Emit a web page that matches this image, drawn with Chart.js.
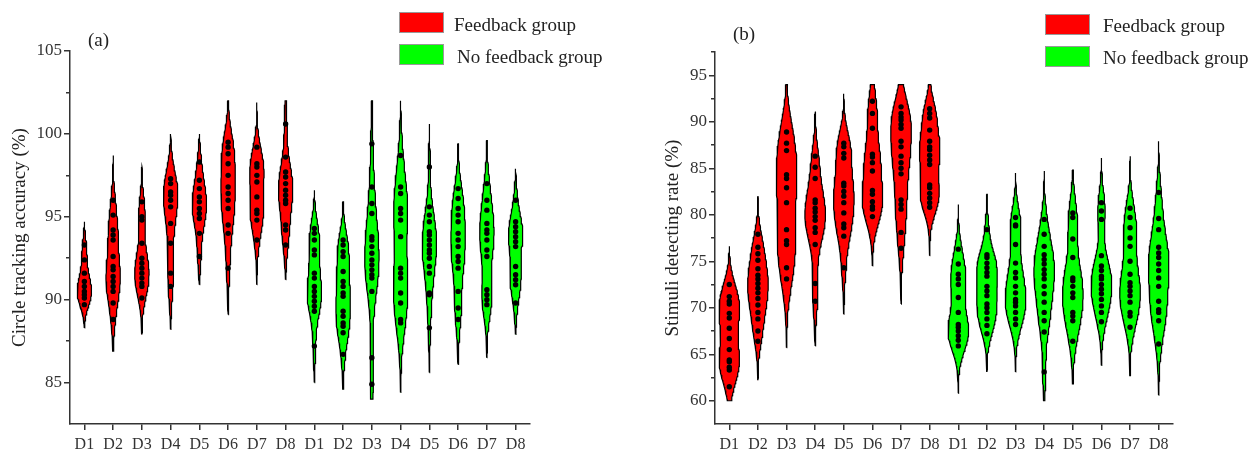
<!DOCTYPE html>
<html>
<head>
<meta charset="utf-8">
<title>Violin plots</title>
<script src="https://cdn.jsdelivr.net/npm/chart.js@4.4.1/dist/chart.umd.min.js"></script>
<style>
  body { margin: 0; background: #fff; }
  #wrap { position: relative; width: 1260px; height: 452px; overflow: hidden; font-family: 'Liberation Serif', 'Times New Roman', serif; color: #222; }
  canvas { position: absolute; top: 0; }
  .lbl { position: absolute; font-size: 19px; line-height: 20px; white-space: nowrap; }
  .box { position: absolute; width: 45px; height: 21px; box-sizing: border-box; border: 1px solid #999; }
</style>
</head>
<body>
<div id="wrap">
  <canvas id="chartA" width="630" height="452" style="left:0"></canvas>
  <canvas id="chartB" width="630" height="452" style="left:630px"></canvas>

  <div class="lbl" style="left:88px;top:30px">(a)</div>
  <div class="box" style="left:399px;top:12px;background:#ff0000"></div>
  <div class="lbl" style="left:454px;top:15px">Feedback group</div>
  <div class="box" style="left:399px;top:44px;background:#00ff00"></div>
  <div class="lbl" style="left:457px;top:47px">No feedback group</div>

  <div class="lbl" style="left:733px;top:24px">(b)</div>
  <div class="box" style="left:1045px;top:14px;background:#ff0000"></div>
  <div class="lbl" style="left:1103px;top:16px">Feedback group</div>
  <div class="box" style="left:1045px;top:46px;background:#00ff00"></div>
  <div class="lbl" style="left:1103px;top:48px">No feedback group</div>
</div>

<script>
// ---------- data ----------
const days = ['D1', 'D2', 'D3', 'D4', 'D5', 'D6', 'D7', 'D8'];
const tickLabels = days.concat(days);   // feedback D1-D8 then no feedback D1-D8

// (a) circle tracking accuracy (%), subject values per day
const accFeedback = [
  [93.3, 92.4, 91.6, 91.1, 90.8, 90.5, 90.3, 90.1, 89.7],
  [96.0, 95.1, 94.2, 93.9, 93.6, 92.6, 92.0, 91.8, 91.4, 91.1, 90.8, 90.5, 89.8, 88.8],
  [95.9, 95.0, 94.8, 93.4, 92.5, 92.2, 91.9, 91.6, 91.3, 91.0, 90.8, 90.1],
  [97.3, 97.0, 96.5, 96.3, 96.0, 95.6, 94.6, 93.4, 91.6, 90.8],
  [98.3, 97.2, 96.7, 96.2, 95.9, 95.5, 95.2, 94.9, 94.0, 92.6],
  [99.5, 99.2, 98.8, 98.2, 97.5, 96.8, 96.4, 96.0, 95.5, 94.5, 94.0, 91.9],
  [99.2, 98.2, 98.0, 97.5, 97.1, 96.2, 95.4, 95.2, 94.8, 93.6],
  [100.6, 98.6, 97.7, 97.4, 97.0, 96.6, 96.3, 96.0, 95.8, 94.5, 94.2, 93.3]
];
const accNoFeedback = [
  [94.3, 94.0, 93.6, 93.0, 92.7, 91.6, 91.3, 90.8, 90.5, 90.2, 89.9, 89.6, 89.3, 87.2],
  [93.6, 93.3, 92.9, 92.6, 91.7, 91.1, 90.8, 90.4, 90.2, 89.3, 89.0, 88.6, 88.4, 88.0, 86.7],
  [99.4, 96.8, 95.8, 95.2, 93.8, 93.6, 93.2, 92.8, 92.4, 92.1, 91.8, 91.5, 91.3, 90.5, 86.5, 84.9],
  [98.7, 96.8, 96.4, 95.5, 95.2, 94.8, 93.8, 91.9, 91.6, 91.3, 90.4, 89.8, 88.8, 88.6],
  [98.0, 95.6, 95.1, 94.7, 94.1, 93.9, 93.6, 93.3, 93.0, 92.8, 92.5, 92.0, 91.6, 90.4, 90.3, 88.3],
  [96.7, 96.1, 95.5, 95.1, 94.7, 94.0, 93.6, 93.2, 92.6, 92.3, 91.9, 90.5, 89.5, 88.8],
  [97.0, 96.0, 95.4, 94.6, 94.2, 94.0, 93.6, 93.0, 92.6, 90.6, 90.3, 90.0, 89.7],
  [96.0, 94.7, 94.4, 94.1, 93.8, 93.5, 93.2, 92.0, 91.5, 91.2, 90.9, 89.8]
];
// lowest / highest end of each violin (tails)
const accFeedbackRange = [[88.3, 94.7], [86.9, 98.7], [87.9, 98.0], [88.2, 100.0], [90.9, 100.0], [89.1, 102.0], [90.9, 101.9], [91.2, 102.0]];
const accNoFeedbackRange = [[85.0, 96.6], [84.6, 95.9], [84.0, 102.0], [84.4, 102.0], [85.6, 100.6], [86.1, 99.4], [86.5, 99.6], [87.9, 97.9]];
const accTicks = [85, 90, 95, 100, 105];

// (b) stimuli detecting rate (%)
const rateFeedback = [
  [72.5, 71.2, 70.7, 70.4, 69.4, 68.9, 67.8, 66.7, 65.5, 64.4, 64.2, 63.6, 63.3, 61.5],
  [77.9, 76.5, 75.8, 75.1, 74.2, 73.5, 73.1, 72.6, 72.1, 71.6, 71.0, 70.3, 69.5, 68.8, 67.5, 66.4],
  [88.9, 87.7, 86.9, 84.3, 83.9, 82.9, 81.3, 78.4, 77.2, 76.8, 74.3, 73.1],
  [86.3, 85.1, 83.9, 81.6, 81.3, 80.7, 80.3, 79.8, 79.4, 78.6, 78.1, 76.8, 72.6, 70.7],
  [87.7, 87.3, 86.6, 86.1, 83.4, 83.1, 82.5, 82.0, 81.3, 80.2, 79.0, 78.6, 77.7, 74.3],
  [92.2, 90.9, 89.3, 86.5, 86.2, 85.6, 84.7, 82.6, 82.2, 81.4, 80.9, 80.6, 79.8],
  [91.6, 90.9, 90.5, 90.2, 89.7, 89.3, 87.9, 87.3, 86.3, 85.6, 85.0, 84.4, 81.6, 81.1, 80.6, 78.1, 76.4],
  [91.4, 90.9, 90.4, 89.1, 87.9, 87.3, 87.0, 86.4, 85.9, 85.4, 83.2, 82.9, 82.3, 81.8, 81.3, 80.8]
];
const rateNoFeedback = [
  [76.3, 74.7, 73.6, 73.1, 72.5, 71.1, 69.5, 68.2, 67.9, 67.5, 67.0, 66.5, 65.9],
  [78.4, 75.7, 75.4, 74.8, 74.3, 73.8, 73.4, 72.3, 71.8, 71.3, 70.4, 70.0, 69.5, 68.8, 68.1, 67.2],
  [79.7, 78.9, 78.8, 76.8, 74.8, 73.8, 73.2, 72.3, 71.6, 70.9, 70.6, 70.2, 69.5, 68.8, 68.2],
  [79.5, 77.9, 76.6, 75.7, 75.2, 74.7, 74.1, 73.6, 73.1, 72.3, 71.5, 70.6, 69.5, 68.6, 67.4, 63.1],
  [80.2, 79.7, 77.4, 75.4, 73.2, 72.9, 72.3, 71.6, 71.1, 69.5, 69.1, 68.6, 66.4],
  [81.3, 80.4, 79.5, 75.6, 74.5, 74.0, 73.4, 73.1, 72.5, 72.0, 71.5, 70.9, 70.2, 69.5, 68.5],
  [80.7, 79.7, 78.6, 77.5, 76.6, 75.0, 73.6, 72.7, 72.3, 71.8, 71.3, 70.6, 69.5, 69.1, 67.9],
  [82.4, 79.6, 78.4, 76.5, 75.9, 75.4, 74.7, 74.0, 73.2, 72.3, 70.7, 69.8, 69.5, 68.6, 66.1]
];
const rateFeedbackRange = [[60.0, 76.6], [62.2, 82.0], [65.7, 94.0], [65.9, 91.1], [69.3, 93.0], [74.5, 94.0], [70.4, 94.0], [75.6, 94.0]];
const rateNoFeedbackRange = [[60.8, 81.1], [63.1, 82.2], [63.1, 84.5], [60.0, 84.7], [61.8, 84.8], [63.8, 86.1], [62.7, 86.3], [60.6, 87.9]];
const rateTicks = [60, 65, 70, 75, 80, 85, 90, 95];

// ---------- styling ----------
const RED = '#ff0000', GREEN = '#00ff00';
const AXIS = '#333', TXT = '#333';
const SERIF = "'Liberation Serif', 'Times New Roman', serif";

// kernel density outline of one violin, as a closed polygon in data units
function violin(center, vals, range, halfWidth) {
  const n = vals.length;
  const mean = vals.reduce((a, b) => a + b, 0) / n;
  const sd = Math.sqrt(vals.reduce((a, v) => a + (v - mean) * (v - mean), 0) / (n - 1));
  const h = 0.85 * sd * Math.pow(n, -0.2);
  const steps = 90;
  let ys = [], ds = [];
  for (let k = 0; k <= steps; k++) {
    const y = range[0] + (range[1] - range[0]) * k / steps;
    let d = 0;
    vals.forEach(v => { const z = (y - v) / h; d += Math.exp(-0.5 * z * z); });
    ys.push(y); ds.push(d);
  }
  const dmax = Math.max(...ds);
  const right = ys.map((y, k) => ({x: center + halfWidth * ds[k] / dmax, y: y}));
  const left = ys.map((y, k) => ({x: center - halfWidth * ds[k] / dmax, y: y})).reverse();
  return right.concat(left, [right[0]]);
}

function panel(id, cfg) {
  const groups = cfg.fb.concat(cfg.nofb);
  const ranges = cfg.fbRange.concat(cfg.nofbRange);
  const datasets = [];
  const dots = [];
  groups.forEach((vals, i) => {
    datasets.push({
      data: violin(i + 1, vals, ranges[i], cfg.halfWidth),
      backgroundColor: i < 8 ? RED : GREEN,
      borderColor: '#000',
      borderWidth: 1.2,
      fill: 'shape',
      pointRadius: 0,
      tension: 0,
      order: 1
    });
    vals.forEach(v => dots.push({x: i + 1, y: v}));
  });
  datasets.push({
    data: dots, showLine: false, pointRadius: 2.7, pointStyle: 'circle',
    pointBackgroundColor: '#000', pointBorderWidth: 0, order: 0
  });

  const minor = [];
  cfg.ticks.forEach(t => { if (t + 2.5 < cfg.max + 0.01) minor.push(t + 2.5); });
  if (cfg.ticks[0] - 2.5 > cfg.min) minor.unshift(cfg.ticks[0] - 2.5);

  new Chart(document.getElementById(id), {
    type: 'line',
    data: {datasets: datasets},
    options: {
      responsive: false,
      animation: false,
      events: [],
      layout: {padding: cfg.pad},
      plugins: {legend: {display: false}, tooltip: {enabled: false}},
      scales: {
        x: {
          type: 'linear', min: 0.5, max: 16.5,
          afterBuildTicks: a => { a.ticks = tickLabels.map((_, i) => ({value: i + 1})); },
          afterFit: a => { a.height = 28; },
          grid: {drawOnChartArea: false, tickLength: 6, color: AXIS, lineWidth: 1.5},
          border: {color: AXIS, width: 1.5},
          ticks: {
            callback: v => tickLabels[v - 1],
            color: TXT, font: {family: SERIF, size: 16}, padding: 5,
            autoSkip: false, maxRotation: 0
          }
        },
        y: {
          position: 'left', weight: 1, min: cfg.min, max: cfg.max,
          afterBuildTicks: a => { a.ticks = cfg.ticks.map(v => ({value: v})); },
          afterFit: a => { a.width = cfg.axisWidth; },
          grid: {drawOnChartArea: false, tickLength: 6, color: AXIS, lineWidth: 1.5},
          border: {color: AXIS, width: 1.5},
          ticks: {color: TXT, font: {family: SERIF, size: 17}, padding: 2},
          title: {display: true, text: cfg.title, color: '#222', font: {family: SERIF, size: 19}, padding: {top: 9, bottom: 0}}
        },
        yMinor: {
          position: 'left', weight: 0, min: cfg.min, max: cfg.max,
          afterBuildTicks: a => { a.ticks = minor.map(v => ({value: v})); },
          afterFit: a => { a.width = 0; },
          grid: {drawOnChartArea: false, tickLength: 4, color: AXIS, lineWidth: 1.5},
          border: {display: false},
          ticks: {display: false}
        }
      }
    }
  });
}

panel('chartA', {
  fb: accFeedback, nofb: accNoFeedback,
  fbRange: accFeedbackRange, nofbRange: accNoFeedbackRange,
  min: 82.5, max: 105, ticks: accTicks,
  title: 'Circle tracking accuracy (%)',
  halfWidth: 0.25, axisWidth: 70,
  pad: {left: 0, right: 100, top: 51, bottom: 0}
});

panel('chartB', {
  fb: rateFeedback, nofb: rateNoFeedback,
  fbRange: rateFeedbackRange, nofbRange: rateNoFeedbackRange,
  min: 57.5, max: 97.5, ticks: rateTicks,
  title: 'Stimuli detecting rate (%)',
  halfWidth: 0.36, axisWidth: 62,
  pad: {left: 23, right: 87, top: 52, bottom: 0}
});
</script>
</body>
</html>
